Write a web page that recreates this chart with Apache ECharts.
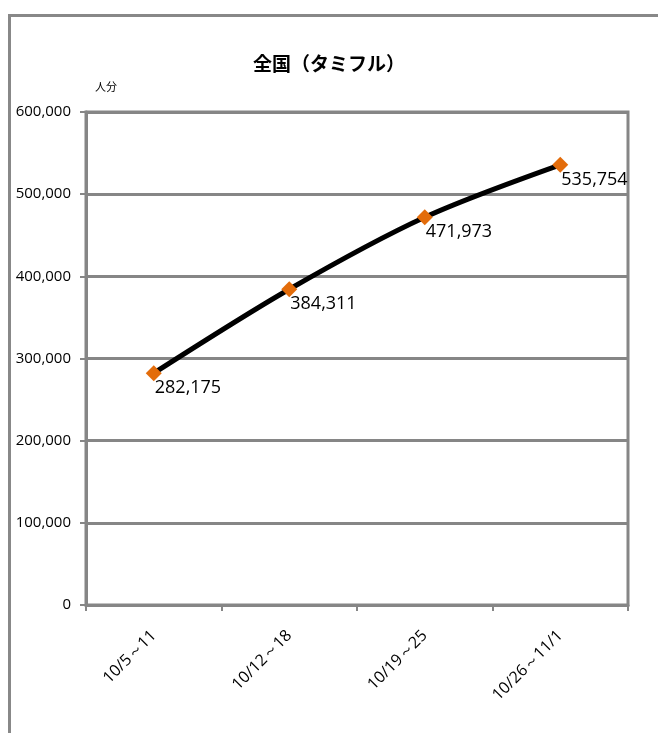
<!DOCTYPE html>
<html><head><meta charset="utf-8">
<script src="https://cdn.jsdelivr.net/npm/echarts@6/dist/echarts.min.js"></script>
<style>html,body{margin:0;padding:0;background:#fff}#c{width:658px;height:733px}</style>
</head><body><div id="c"></div>
<script>
const categories = ['10/5～11', '10/12～18', '10/19～25', '10/26～11/1'];
const values = [282175, 384311, 471973, 535754];
const yTicks = [0, 100000, 200000, 300000, 400000, 500000, 600000];
const titleText = '全国（タミフル）';
const unitText = '人分';

const fmt = v => String(v).replace(/\B(?=(\d{3})+(?!\d))/g, ',');
const numFont = '"Liberation Sans Narrow", "Open Sans", sans-serif';
const chart = echarts.init(document.getElementById('c'));
chart.setOption({
  animation: false,
  backgroundColor: '#fff',
  title: {
    text: titleText, left: 'center', top: 49,
    textStyle: { fontFamily: '"Noto Sans CJK JP", sans-serif', fontWeight: 'bold', fontSize: 19, color: '#000' }
  },
  graphic: [
    { type: 'rect', shape: { x: 9.5, y: 15.5, width: 800, height: 800 }, style: { fill: null, stroke: '#888', lineWidth: 3 }, silent: true },
    { type: 'text', left: 95, top: 81, style: { text: unitText, font: '11px "Noto Sans CJK JP", sans-serif', fill: '#000' } }
  ],
  grid: { left: 86, top: 112, right: 30, bottom: 128, show: true, borderColor: '#868686', borderWidth: 3 },
  xAxis: {
    type: 'category', data: categories, boundaryGap: true,
    axisLine: { lineStyle: { color: '#868686', width: 3 } },
    axisTick: { show: true, length: 6, alignWithLabel: false, lineStyle: { color: '#868686', width: 2 } },
    axisLabel: { rotate: 45, margin: 28, fontSize: 16, color: '#000', fontFamily: numFont }
  },
  yAxis: {
    type: 'value', min: yTicks[0], max: yTicks[yTicks.length - 1], interval: yTicks[1] - yTicks[0],
    axisLine: { show: true, lineStyle: { color: '#868686', width: 3 } },
    axisTick: { show: true, length: 6, lineStyle: { color: '#868686', width: 2 } },
    splitLine: { lineStyle: { color: '#868686', width: 3 } },
    axisLabel: { formatter: fmt, fontSize: 15, color: '#000', fontFamily: numFont, margin: 15 }
  },
  series: [{
    type: 'line', data: values, smooth: 0.3,
    lineStyle: { color: '#000', width: 5 },
    symbol: 'diamond', symbolSize: 16,
    itemStyle: { color: '#E36C0A' },
    label: {
      show: true, formatter: p => fmt(p.value), position: [9, 14],
      align: 'left', verticalAlign: 'top',
      fontSize: 18, color: '#000', fontFamily: numFont
    }
  }]
});
</script></body></html>
